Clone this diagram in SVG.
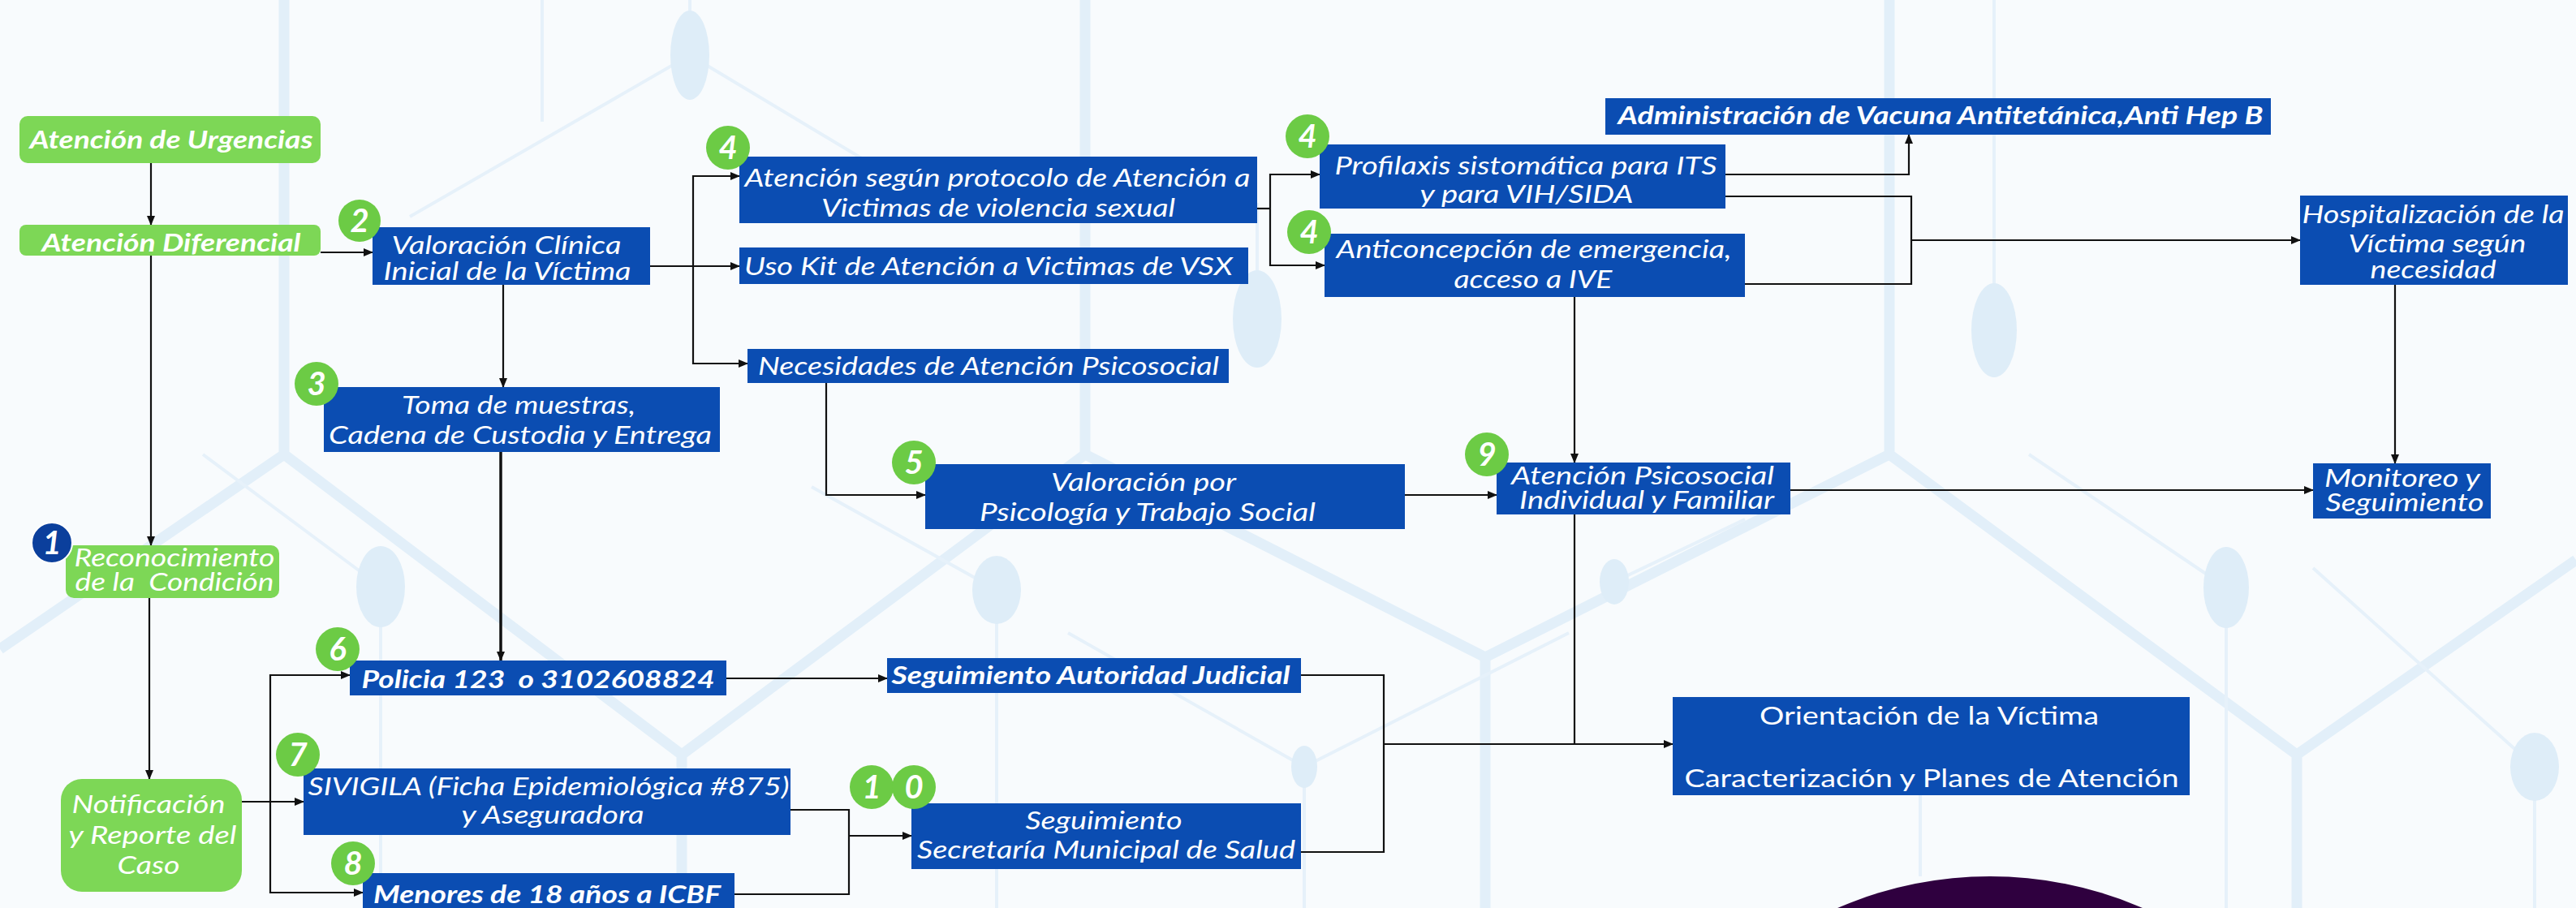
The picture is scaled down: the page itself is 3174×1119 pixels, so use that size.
<svg xmlns="http://www.w3.org/2000/svg" width="3174" height="1119" viewBox="0 0 3174 1119">
<defs>
<marker id="ar" markerUnits="userSpaceOnUse" markerWidth="12" markerHeight="12" refX="11" refY="6" orient="auto"><path d="M0,1 L12,6 L0,11 z" fill="#111"/></marker>
<style>
.bg{fill:#f8fbfd}
.hx{stroke:#e2eff9;stroke-width:13;fill:none}
.hn{stroke:#e6f1fa;stroke-width:4;fill:none}
.nd{fill:#deedf8}
.bx{fill:#0b4db2}
.gb{fill:#7dd756}
.bd{fill:#6ccb45}
.t{font-family:Lato,"Liberation Sans",sans-serif;font-style:italic;fill:#fff;text-anchor:middle;font-size:30px}
.b{font-weight:700}
.u{font-style:normal}
.n{font-family:Lato,"Liberation Sans",sans-serif;font-style:italic;font-weight:700;fill:#fff;text-anchor:middle;font-size:40px}
.c{stroke:#111;stroke-width:2.2;fill:none}
.a{marker-end:url(#ar)}
</style>
</defs>
<rect class="bg" x="0" y="0" width="3174" height="1119"/>
<g id="background">
<path class="hx" d="M350,0 V560 L0,800 M350,560 L840,930 V1119 M840,930 L1337,560 V0 M1337,560 L1830,810 V1119 M1830,810 L2328,560 V0 M2328,560 L2830,930 V1119 M2830,930 L3174,690"/>
<path class="hn" d="M850,68 L505,267 M850,68 L1070,200 M850,0 V68 M1228,727 V1119 M1228,727 L1000,600 M469,723 V1119 M469,723 L250,560 M1607,945 L1316,780 M1607,945 L1933,780 M1607,945 V1119 M2743,724 L2500,560 M2743,724 V1119 M3123,945 L2850,700 M3123,945 V1119 M2457,407 V0 M1989,717 L2150,640 M2366,980 V1080 M668,0 V150 M1549,393 V250"/>
<ellipse class="nd" cx="850" cy="68" rx="24" ry="55"/>
<ellipse class="nd" cx="1549" cy="393" rx="30" ry="60"/>
<ellipse class="nd" cx="2457" cy="407" rx="28" ry="58"/>
<ellipse class="nd" cx="469" cy="723" rx="30" ry="50"/>
<ellipse class="nd" cx="1228" cy="727" rx="30" ry="42"/>
<ellipse class="nd" cx="1989" cy="717" rx="18" ry="28"/>
<ellipse class="nd" cx="2743" cy="724" rx="28" ry="50"/>
<ellipse class="nd" cx="1607" cy="945" rx="16" ry="26"/>
<ellipse class="nd" cx="3123" cy="945" rx="30" ry="42"/>
<circle cx="2452" cy="1552" r="472" fill="#2f003f"/>
</g>
<g id="connectors">
<path class="c a" d="M186,201 V277"/>
<path class="c a" d="M395,311 H459"/>
<path class="c a" d="M186,315 V672"/>
<path class="c a" d="M184,737 V960"/>
<path class="c a" d="M298,988 H374"/>
<path class="c a" d="M333,988 V832 H431"/>
<path class="c a" d="M333,988 V1100 H447"/>
<path class="c a" d="M620,351 V477"/>
<path class="c a" d="M617,557 V814" style="stroke-width:3.5"/>
<path class="c" d="M801,328 H854"/>
<path class="c a" d="M854,328 V217 H911"/>
<path class="c a" d="M854,328 H911"/>
<path class="c a" d="M854,328 V448 H921"/>
<path class="c a" d="M1018,472 V610 H1140"/>
<path class="c a" d="M1731,610 H1844"/>
<path class="c" d="M1549,257 H1565"/>
<path class="c a" d="M1565,257 V215 H1626"/>
<path class="c a" d="M1565,257 V327 H1632"/>
<path class="c a" d="M2126,215 H2352 V166"/>
<path class="c" d="M2126,242 H2355 V350 H2150"/>
<path class="c a" d="M2355,296 H2834"/>
<path class="c a" d="M1940,366 V570"/>
<path class="c a" d="M2951,351 V571"/>
<path class="c a" d="M2206,604 H2850"/>
<path class="c a" d="M895,836 H1093"/>
<path class="c" d="M1603,832 H1705 V1050 H1603"/>
<path class="c a" d="M1705,917 H2061"/>
<path class="c" d="M1940,634 V917"/>
<path class="c" d="M974,998 H1046 V1102 H905"/>
<path class="c a" d="M1046,1030 H1123"/>
</g>
<g id="n-urgencias"><rect class="gb" x="24" y="143" width="371" height="58" rx="10"/><text class="t b" x="211" y="183" font-size="36" textLength="349" lengthAdjust="spacingAndGlyphs">Atención de Urgencias</text></g>
<g id="n-diferencial"><rect class="gb" x="24" y="277" width="371" height="38" rx="8"/><text class="t b" x="211" y="310" font-size="34" textLength="319" lengthAdjust="spacingAndGlyphs">Atención Diferencial</text></g>
<g id="n-valoracion"><rect class="bx" x="459" y="280" width="342" height="71"/><text class="t" x="624" y="313" textLength="283" lengthAdjust="spacingAndGlyphs">Valoración Clínica</text><text class="t" x="625" y="345" textLength="305" lengthAdjust="spacingAndGlyphs">Inicial de la Víctima</text><circle class="bd" cx="443" cy="272" r="26"/><text class="n" x="443" y="286">2</text></g>
<g id="n-protocolo"><rect class="bx" x="911" y="193" width="638" height="82"/><text class="t" x="1229" y="230" textLength="623" lengthAdjust="spacingAndGlyphs">Atención según protocolo de Atención a</text><text class="t" x="1230" y="267" textLength="436" lengthAdjust="spacingAndGlyphs">Victimas de violencia sexual</text><circle class="bd" cx="897" cy="182" r="27"/><text class="n" x="897" y="196">4</text></g>
<g id="n-kit"><rect class="bx" x="911" y="305" width="627" height="45"/><text class="t" x="1218" y="339" font-size="33" textLength="602" lengthAdjust="spacingAndGlyphs">Uso Kit de Atención a Victimas de VSX</text></g>
<g id="n-necesidades"><rect class="bx" x="921" y="430" width="593" height="42"/><text class="t" x="1218" y="462" font-size="32" textLength="568" lengthAdjust="spacingAndGlyphs">Necesidades de Atención Psicosocial</text></g>
<g id="n-toma"><rect class="bx" x="399" y="477" width="488" height="80"/><text class="t" x="639" y="510" textLength="288" lengthAdjust="spacingAndGlyphs">Toma de muestras,</text><text class="t" x="641" y="547" textLength="472" lengthAdjust="spacingAndGlyphs">Cadena de Custodia y Entrega</text><circle class="bd" cx="390" cy="473" r="27"/><text class="n" x="390" y="487">3</text></g>
<g id="n-profilaxis"><rect class="bx" x="1626" y="178" width="500" height="79"/><text class="t" x="1880" y="215" textLength="471" lengthAdjust="spacingAndGlyphs">Profilaxis sistomática para ITS</text><text class="t" x="1881" y="250" textLength="263" lengthAdjust="spacingAndGlyphs">y para VIH/SIDA</text><circle class="bd" cx="1611" cy="168" r="27"/><text class="n" x="1611" y="182">4</text></g>
<g id="n-anticoncepcion"><rect class="bx" x="1632" y="288" width="518" height="78"/><text class="t" x="1890" y="318" textLength="487" lengthAdjust="spacingAndGlyphs">Anticoncepción de emergencia,</text><text class="t" x="1889" y="355" textLength="195" lengthAdjust="spacingAndGlyphs">acceso a IVE</text><circle class="bd" cx="1613" cy="286" r="27"/><text class="n" x="1613" y="300">4</text></g>
<g id="n-vacuna"><rect class="bx" x="1978" y="121" width="820" height="45"/><text class="t b" x="2391" y="153" font-size="32" textLength="795" lengthAdjust="spacingAndGlyphs">Administración de Vacuna Antitetánica,Anti Hep B</text></g>
<g id="n-hospitalizacion"><rect class="bx" x="2834" y="241" width="330" height="110"/><text class="t" x="2998" y="275" textLength="323" lengthAdjust="spacingAndGlyphs">Hospitalización de la</text><text class="t" x="3003" y="311" textLength="219" lengthAdjust="spacingAndGlyphs">Víctima según</text><text class="t" x="2998" y="343" textLength="155" lengthAdjust="spacingAndGlyphs">necesidad</text></g>
<g id="n-monitoreo"><rect class="bx" x="2850" y="571" width="219" height="68"/><text class="t" x="2960" y="600" textLength="192" lengthAdjust="spacingAndGlyphs">Monitoreo y</text><text class="t" x="2963" y="630" textLength="195" lengthAdjust="spacingAndGlyphs">Seguimiento</text></g>
<g id="n-psicologia"><rect class="bx" x="1140" y="572" width="591" height="80"/><text class="t" x="1409" y="605" textLength="228" lengthAdjust="spacingAndGlyphs">Valoración por</text><text class="t" x="1414" y="642" textLength="414" lengthAdjust="spacingAndGlyphs">Psicología y Trabajo Social</text><circle class="bd" cx="1126" cy="570" r="27"/><text class="n" x="1126" y="584">5</text></g>
<g id="n-psicosocial"><rect class="bx" x="1844" y="570" width="362" height="64"/><text class="t" x="2024" y="597" textLength="324" lengthAdjust="spacingAndGlyphs">Atención Psicosocial</text><text class="t" x="2029" y="627" textLength="314" lengthAdjust="spacingAndGlyphs">Individual y Familiar</text><circle class="bd" cx="1832" cy="560" r="27"/><text class="n" x="1832" y="574">9</text></g>
<g id="n-reconocimiento"><rect class="gb" x="81" y="672" width="263" height="65" rx="10"/><text class="t" x="215" y="698" textLength="247" lengthAdjust="spacingAndGlyphs">Reconocimiento</text><text class="t" x="215" y="728" textLength="245" lengthAdjust="spacingAndGlyphs" xml:space="preserve">de la  Condición</text><circle cx="64" cy="669" r="25" fill="#0b3f9c" stroke="#fff" stroke-width="2"/><text class="n" x="64" y="683">1</text></g>
<g id="n-notificacion"><rect class="gb" x="75" y="960" width="223" height="139" rx="26"/><text class="t" x="183" y="1002" font-size="33" textLength="189" lengthAdjust="spacingAndGlyphs">Notificación</text><text class="t" x="188" y="1040" font-size="33" textLength="207" lengthAdjust="spacingAndGlyphs">y Reporte del</text><text class="t" x="183" y="1077" font-size="33" textLength="77" lengthAdjust="spacingAndGlyphs">Caso</text></g>
<g id="n-policia"><rect class="bx" x="431" y="814" width="464" height="43"/><text class="t b" x="663" y="848" font-size="34" textLength="435" lengthAdjust="spacingAndGlyphs" xml:space="preserve">Policia 123  o 3102608824</text><circle class="bd" cx="416" cy="800" r="27"/><text class="n" x="416" y="814">6</text></g>
<g id="n-sivigila"><rect class="bx" x="374" y="947" width="600" height="82"/><text class="t" x="676" y="980" font-size="31" textLength="593" lengthAdjust="spacingAndGlyphs">SIVIGILA (Ficha Epidemiológica #875)</text><text class="t" x="681" y="1015" font-size="31" textLength="225" lengthAdjust="spacingAndGlyphs">y Aseguradora</text><circle class="bd" cx="367" cy="930" r="27"/><text class="n" x="367" y="944">7</text></g>
<g id="n-menores"><rect class="bx" x="447" y="1076" width="458" height="50"/><text class="t b" x="674" y="1113" font-size="34" textLength="428" lengthAdjust="spacingAndGlyphs">Menores de 18 años a ICBF</text><circle class="bd" cx="435" cy="1064" r="27"/><text class="n" x="435" y="1078">8</text></g>
<g id="n-judicial"><rect class="bx" x="1093" y="811" width="510" height="43"/><text class="t b" x="1344" y="843" font-size="32" textLength="491" lengthAdjust="spacingAndGlyphs">Seguimiento Autoridad Judicial</text></g>
<g id="n-secretaria"><rect class="bx" x="1123" y="990" width="480" height="81"/><text class="t" x="1360" y="1022" textLength="193" lengthAdjust="spacingAndGlyphs">Seguimiento</text><text class="t" x="1363" y="1058" textLength="466" lengthAdjust="spacingAndGlyphs">Secretaría Municipal de Salud</text><circle class="bd" cx="1074" cy="970" r="27"/><text class="n" x="1074" y="984">1</text><circle class="bd" cx="1126" cy="970" r="27"/><text class="n" x="1126" y="984">0</text></g>
<g id="n-orientacion"><rect class="bx" x="2061" y="859" width="637" height="121"/><text class="t u" x="2377" y="893" font-size="33" textLength="418" lengthAdjust="spacingAndGlyphs">Orientación de la Víctima</text><text class="t u" x="2380" y="970" font-size="33" textLength="609" lengthAdjust="spacingAndGlyphs">Caracterización y Planes de Atención</text></g>
</svg>
